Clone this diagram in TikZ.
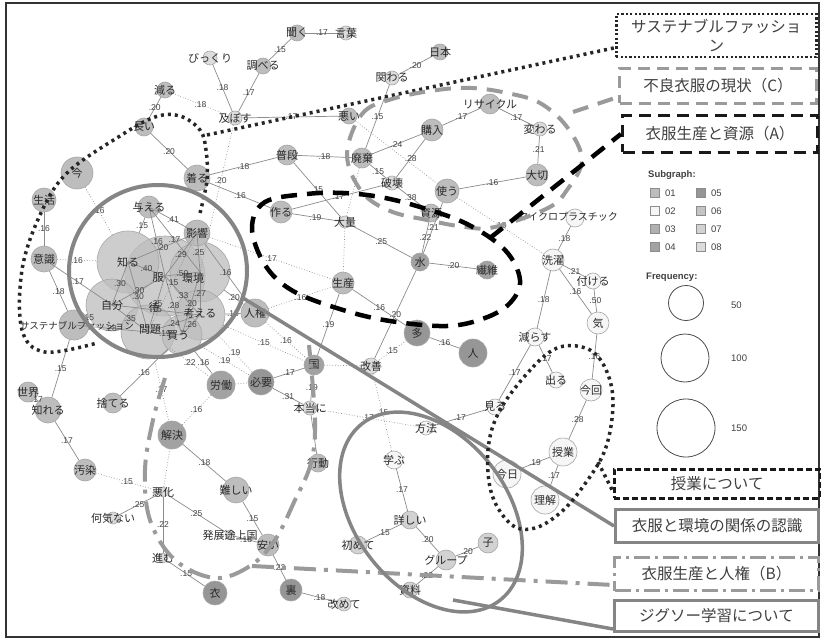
\documentclass[tikz,border=0pt]{standalone}
\usepackage{fontspec}
\setmainfont{Liberation Sans}
\newfontfamily\jp{Noto Sans CJK JP}
\usetikzlibrary{calc}
\pgfdeclarelayer{fg}
\pgfdeclarelayer{ov}
\pgfsetlayers{main,fg,ov}
\definecolor{ca}{HTML}{BDBDBD}
\definecolor{cb}{HTML}{F6F6F6}
\definecolor{cc}{HTML}{B0B0B0}
\definecolor{cd}{HTML}{A2A2A2}
\definecolor{ce}{HTML}{969696}
\definecolor{cf}{HTML}{C4C4C4}
\definecolor{cg}{HTML}{D2D2D2}
\definecolor{ch}{HTML}{DCDCDC}
\definecolor{edgec}{HTML}{8C8C8C}
\definecolor{labc}{HTML}{444444}
\definecolor{txtc}{HTML}{2A2A2A}
\definecolor{ovg}{HTML}{9A9A9A}
\definecolor{ovs}{HTML}{858585}
\tikzset{
  vtx/.style={circle, draw=black!35, line width=0.6pt, inner sep=0pt},
  vtxt/.style={font=\jp\fontsize{11}{11}\selectfont, text=txtc, inner sep=0pt},
  eg/.style={draw=edgec, line width=0.7pt},
  dg/.style={draw=edgec, line width=0.7pt, dotted},
  lab/.style={font=\fontsize{8.5}{9}\selectfont, text=labc, inner sep=0.5pt},
  boxt/.style={font=\jp\fontsize{15.5}{19}\selectfont, text=black!75, align=center, inner sep=0pt, minimum height=30pt},
}
\newcommand\vx[6]{\node[vtx, minimum size=#4pt, fill=#5] (#1) at (#2,#3) {};
  \begin{pgfonlayer}{fg}\node[vtxt] at (#2,#3) {#6};\end{pgfonlayer}}
\newcommand\eS[3]{\draw[eg] (#1) -- node[lab]{#3} (#2);}
\newcommand\eD[3]{\draw[dg] (#1) -- node[lab]{#3} (#2);}
\newcommand\eC[3]{\draw[eg] (#1.center) -- node[lab]{#3} (#2.center);}
\newcommand\eCD[3]{\draw[dg] (#1.center) -- node[lab]{#3} (#2.center);}
\begin{document}
\begin{tikzpicture}[x=1pt,y=-1pt]
\useasboundingbox (0,0) rectangle (821,639);
\fill[white] (0,0) rectangle (821,639);
\draw[black!80, line width=1.5pt] (6,3) rectangle (819,637);

% ---------- big cluster circles ----------
\node[vtx, minimum size=80pt, fill=ca, fill opacity=0.75] (fuku) at (165,276) {};
\node[vtx, minimum size=62pt, fill=ca, fill opacity=0.75] (shiru) at (128,262) {};
\node[vtx, minimum size=60pt, fill=ca, fill opacity=0.75] (kankyo) at (200,272) {};
\node[vtx, minimum size=52pt, fill=ca, fill opacity=0.75] (jibun) at (112,305) {};
\node[vtx, minimum size=50pt, fill=ca, fill opacity=0.75] (kangaeru) at (200,315) {};
\node[vtx, minimum size=54pt, fill=ca, fill opacity=0.75] (mondai) at (148,332) {};
\node[vtx, minimum size=40pt, fill=ca, fill opacity=0.75] (kau) at (182,335) {};
\begin{pgfonlayer}{fg}
\node[vtxt] at (128,262) {知る};
\node[vtxt] at (158,278) {服};
\node[vtxt] at (193,278) {環境};
\node[vtxt] at (112,305) {自分};
\node[vtxt] at (200,313) {考える};
\node[vtxt] at (150,330) {問題};
\node[vtxt] at (178,336) {買う};
\node[vtxt] at (154,307) {待};
\end{pgfonlayer}

% ---------- other vertices ----------
\vx{kiku}{297}{33}{16}{ca}{聞く}
\vx{kotoba}{346}{33}{14}{ch}{言葉}
\vx{bikkuri}{210}{58}{14}{ch}{びっくり}
\vx{shiraberu}{263}{66}{16}{ca}{調べる}
\vx{nihon}{440}{52}{16}{ca}{日本}
\vx{kakawaru}{392}{78}{14}{ch}{関わる}
\vx{heru}{165}{90}{16}{ca}{減る}
\vx{oyobosu}{235}{118}{14}{ch}{及ぼす}
\vx{warui}{349}{116}{16}{ca}{悪い}
\vx{nagai}{144}{127}{18}{ca}{長い}
\vx{recycle}{490}{104}{20}{ca}{リサイクル}
\vx{kawaru}{540}{129}{14}{ch}{変わる}
\vx{kounyu}{432}{130}{22}{ca}{購入}
\vx{kiru}{197}{178}{26}{ca}{着る}
\vx{fudan}{287}{155}{20}{ca}{普段}
\vx{haiki}{362}{158}{20}{ca}{廃棄}
\vx{hakai}{392}{183}{14}{ch}{破壊}
\vx{tsukau}{447}{191}{24}{ca}{使う}
\vx{taisetsu}{537}{175}{22}{ca}{大切}
\vx{ima}{77}{173}{32}{ca}{今}
\vx{seikatsu}{44}{200}{24}{ca}{生活}
\vx{tsukuru}{281}{212}{22}{ca}{作る}
\vx{tairyou}{345}{222}{12}{ch}{大量}
\vx{shigen}{431}{213}{18}{ca}{資源}
\node[vtx, minimum size=18pt, fill=cb] (micro) at (575,218) {};
\begin{pgfonlayer}{fg}\node[vtxt, font=\jp\fontsize{10}{10}\selectfont] at (568,217) {マイクロプラスチック};\end{pgfonlayer}
\vx{ataeru}{149}{207}{22}{ca}{与える}
\vx{eikyou}{197}{233}{26}{ca}{影響}
\vx{ishiki}{44}{259}{26}{ca}{意識}
\vx{jinken}{255}{313}{28}{ca}{人権}
\node[vtx, minimum size=30pt, fill=ca] (sustainable) at (74,325) {};
\begin{pgfonlayer}{fg}\node[vtxt, font=\jp\fontsize{9.5}{10}\selectfont] at (77,326) {サステナブルファッション};\end{pgfonlayer}
\vx{mizu}{420}{262}{18}{cd}{水}
\vx{seni}{487}{270}{18}{cd}{繊維}
\vx{sentaku}{553}{260}{22}{cb}{洗濯}
\vx{tsukeru}{593}{281}{16}{cb}{付ける}
\vx{seisan}{343}{283}{22}{ca}{生産}
\vx{ki}{598}{323}{22}{cb}{気}
\vx{ooi}{417}{333}{26}{ce}{多}
\vx{hito}{473}{353}{28}{ce}{人}
\vx{herasu}{535}{337}{18}{cb}{減らす}
\vx{deru}{556}{380}{16}{cb}{出る}
\vx{konkai}{591}{390}{22}{cb}{今回}
\vx{sekai}{28}{392}{20}{ca}{世界}
\vx{shireru}{48}{410}{26}{ca}{知れる}
\vx{suteru}{113}{403}{20}{ca}{捨てる}
\vx{roudou}{221}{385}{28}{cd}{労働}
\vx{hitsuyou}{261}{382}{26}{ce}{必要}
\vx{kuni}{314}{365}{20}{cd}{国}
\vx{kaizen}{371}{366}{16}{ch}{改善}
\vx{hontou}{310}{408}{14}{ch}{本当に}
\vx{miru}{495}{407}{16}{cb}{見る}
\vx{houhou}{426}{428}{14}{cb}{方法}
\vx{jugyou}{563}{452}{28}{cb}{授業}
\vx{kyou}{507}{474}{28}{cb}{今日}
\vx{rikai}{545}{500}{28}{cb}{理解}
\vx{koudou}{318}{463}{18}{ca}{行動}
\vx{manabu}{394}{460}{18}{cb}{学ぶ}
\vx{kaiketsu}{172}{435}{28}{cd}{解決}
\vx{muzukashii}{236}{490}{26}{ca}{難しい}
\vx{osen}{85}{470}{22}{ca}{汚染}
\vx{akka}{163}{492}{10}{ch}{悪化}
\vx{nanigenai}{113}{518}{12}{ch}{何気ない}
\vx{hatten}{230}{535}{10}{ch}{発展途上国}
\vx{kuwashii}{410}{520}{18}{cg}{詳しい}
\vx{hajimete}{358}{545}{18}{cg}{初めて}
\vx{ko}{488}{543}{20}{cg}{子}
\vx{group}{446}{560}{20}{cg}{グループ}
\vx{yasui}{268}{545}{22}{ca}{安い}
\vx{susumu}{163}{558}{10}{ch}{進む}
\vx{koromo}{215}{593}{24}{ce}{衣}
\vx{shiryou}{410}{590}{16}{cg}{資料}
\vx{ura}{291}{590}{22}{ce}{裏}
\vx{aratamete}{344}{604}{14}{ch}{改めて}

% ---------- edges ----------
\eS{kiku}{kotoba}{.17}
\eS{kiku}{shiraberu}{.15}
\eS{shiraberu}{oyobosu}{.17}
\eS{bikkuri}{oyobosu}{.18}
\eD{heru}{oyobosu}{.18}
\eS{heru}{nagai}{.20}
\eS{nagai}{kiru}{.20}
\eS{oyobosu}{warui}{.17}
\draw[dg] (oyobosu) -- node[lab, pos=0.38]{.20} (kankyo.center);
\eS{nihon}{kakawaru}{.20}
\eS{kakawaru}{haiki}{.15}
\eD{warui}{tsukau}{}
\eS{fudan}{haiki}{.18}
\eS{haiki}{kounyu}{.24}
\eS{kounyu}{recycle}{.17}
\eS{recycle}{kawaru}{.17}
\eS{kawaru}{taisetsu}{.21}
\eS{taisetsu}{tsukau}{.16}
\eS{kounyu}{hakai}{.28}
\eS{haiki}{hakai}{.15}
\eS{hakai}{shigen}{.38}
\eS{hakai}{tsukuru}{.17}
\eS{fudan}{tairyou}{.15}
\eD{haiki}{tairyou}{}
\eS{tsukuru}{tairyou}{.19}
\eS{kiru}{tsukuru}{.16}
\eS{kiru}{fudan}{.18}
\eS{tairyou}{mizu}{.25}
\eS{mizu}{shigen}{.22}
\eS{mizu}{tsukau}{.21}
\eS{mizu}{seni}{.20}
\eS{mizu}{kaizen}{.20}
\eS{seisan}{ooi}{.16}
\eS{ooi}{hito}{.16}
\eD{ooi}{kaizen}{.15}
\eS{seisan}{kuni}{.19}
\eD{tairyou}{seisan}{}
\eD{jinken}{seisan}{.16}
\eD{eikyou}{seisan}{.17}
\eS{micro}{sentaku}{.18}
\eD{tsukau}{sentaku}{.18}
\eS{sentaku}{tsukeru}{.21}
\eS{sentaku}{ki}{.16}
\eS{tsukeru}{ki}{.50}
\eS{sentaku}{herasu}{.18}
\eS{ki}{konkai}{.16}
\eS{herasu}{deru}{.17}
\eS{herasu}{miru}{.17}
\eS{konkai}{jugyou}{.28}
\eS{jugyou}{kyou}{.19}
\eS{jugyou}{rikai}{.17}
\eS{miru}{houhou}{.17}
\eD{hontou}{houhou}{.17}
\eD{kaizen}{manabu}{.15}
\eD{kuni}{kaizen}{}
\eS{manabu}{kuwashii}{.17}
\eS{kuwashii}{hajimete}{.15}
\eS{kuwashii}{group}{.20}
\eS{group}{ko}{.20}
\eS{group}{shiryou}{.22}
\eS{ura}{aratamete}{.18}
\eS{yasui}{ura}{.22}
\eS{muzukashii}{yasui}{.15}
\eS{kaiketsu}{muzukashii}{.18}
\eS{hatten}{yasui}{.18}
\eS{akka}{hatten}{.25}
\eS{akka}{susumu}{.22}
\eS{akka}{nanigenai}{.25}
\eS{susumu}{koromo}{.15}
\eD{osen}{akka}{.15}
\eS{shireru}{osen}{.17}
\eS{sekai}{shireru}{.17}
\eS{sustainable}{shireru}{.15}
\eS{ishiki}{sustainable}{.18}
\eS{seikatsu}{ishiki}{.16}
\eD{ima}{shiru}{.16}
\eD{ishiki}{shiru}{.16}
\eS{sustainable}{jibun}{.15}
\eS{suteru}{kau}{.16}
\eS{ataeru}{shiru}{.15}
\eS{eikyou}{jinken}{.16}
\eS{kankyo}{jinken}{.20}
\eS{kangaeru}{jinken}{.15}
\eD{jinken}{kuni}{.16}
\eS{kau}{roudou}{.16}
\eD{kau}{hitsuyou}{.19}
\eD{mondai}{roudou}{.22}
\eD{kangaeru}{hitsuyou}{.19}
\eD{roudou}{hitsuyou}{}
\eS{hitsuyou}{kuni}{.17}
\eD{kangaeru}{kuni}{.15}
\eS{hitsuyou}{hontou}{.31}
\eS{kuni}{hontou}{.19}
\eS{hontou}{koudou}{}
\eD{roudou}{kaiketsu}{.16}
\eD{mondai}{kaiketsu}{.17}
\eD{akka}{kaiketsu}{}
% cluster
\eC{shiru}{fuku}{.40}
\eC{shiru}{jibun}{.30}
\eC{shiru}{mondai}{.30}
\eC{jibun}{fuku}{.30}
\eC{jibun}{mondai}{.35}
\eC{fuku}{kankyo}{.50}
\eC{fuku}{mondai}{.25}
\eC{fuku}{kangaeru}{.33}
\eC{fuku}{kau}{.28}
\eC{kankyo}{kangaeru}{.27}
\eC{mondai}{kangaeru}{.24}
\eC{kangaeru}{kau}{.26}
\eC{mondai}{kau}{.19}
\eC{kankyo}{kau}{.20}
\eC{ataeru}{eikyou}{.41}
\eC{ataeru}{kankyo}{.17}
\eC{ataeru}{fuku}{.16}
\eC{shiru}{eikyou}{.20}
\eC{fuku}{eikyou}{.29}
\eC{eikyou}{kankyo}{.25}
\eC{jibun}{kangaeru}{.15}
\eC{sustainable}{mondai}{.28}
\eC{ishiki}{jibun}{.17}
\eCD{eikyou}{mondai}{.15}

% ---------- label boxes ----------
\node[boxt, draw=black!85, line width=2.5pt, dash pattern=on 2.2pt off 2.2pt, minimum width=200pt, minimum height=43pt, anchor=north west] (boxS) at (615,13) {サステナブルファッショ\\ン};
\node[boxt, draw=ovg, line width=3pt, dash pattern=on 12pt off 7pt, minimum width=197pt, minimum height=35pt, anchor=north west] (boxC) at (618,67) {不良衣服の現状（C）};
\node[boxt, draw=black!90, line width=3pt, dash pattern=on 12pt off 7pt, minimum width=195pt, minimum height=37pt, anchor=north west] (boxA) at (621,114) {衣服生産と資源（A）};
\node[boxt, draw=black!90, line width=2.5pt, dash pattern=on 6pt off 3pt, minimum width=206pt, minimum height=29pt, anchor=north west] (boxJ) at (613,468) {授業について};
\node[boxt, draw=ovs, line width=3pt, minimum width=203pt, minimum height=33pt, anchor=north west] (boxK) at (614,508) {衣服と環境の関係の認識};
\node[boxt, draw=ovg, line width=3pt, dash pattern=on 16pt off 5pt on 3pt off 5pt, minimum width=204pt, minimum height=33pt, anchor=north west] (boxB) at (613,556) {衣服生産と人権（B）};
\node[boxt, draw=ovs, line width=3pt, minimum width=204pt, minimum height=31pt, anchor=north west] (boxG) at (613,599) {ジグソー学習について};

% ---------- legend ----------
\node[font=\bfseries\fontsize{9.5}{10}\selectfont, text=black!75, anchor=west, inner sep=0pt] (subg) at (648,175) {Subgraph:};
\tikzset{sq/.style={draw=black!45, line width=0.5pt, minimum size=9pt, inner sep=0pt}, lt/.style={font=\fontsize{9.5}{10}\selectfont, text=black!75, anchor=west, inner sep=0pt}}
\node[sq, fill=ca] (s1) at (655,193) {}; \node[lt] at (665,193) {01};
\node[sq, fill=cb] (s2) at (655,211) {}; \node[lt] at (665,211) {02};
\node[sq, fill=cc] (s3) at (655,229) {}; \node[lt] at (665,229) {03};
\node[sq, fill=cd] (s4) at (655,247) {}; \node[lt] at (665,247) {04};
\node[sq, fill=ce] (s5) at (701,193) {}; \node[lt] at (711,193) {05};
\node[sq, fill=cf] (s6) at (701,211) {}; \node[lt] at (711,211) {06};
\node[sq, fill=cg] (s7) at (701,229) {}; \node[lt] at (711,229) {07};
\node[sq, fill=ch] (s8) at (701,247) {}; \node[lt] at (711,247) {08};
\node[font=\bfseries\fontsize{9.5}{10}\selectfont, text=black!75, anchor=west, inner sep=0pt] (freq) at (646,277) {Frequency:};
\node[circle, draw=black!70, line width=0.8pt, minimum size=35pt, inner sep=0pt] (f50) at (686,303) {};
\node[lt] at (731,305) {50};
\node[circle, draw=black!70, line width=0.8pt, minimum size=48pt, inner sep=0pt] (f100) at (685,358) {};
\node[lt] at (731,358) {100};
\node[circle, draw=black!70, line width=0.8pt, minimum size=58pt, inner sep=0pt] (f150) at (686,428) {};
\node[lt] at (731,428) {150};

% ---------- overlays ----------
\begin{pgfonlayer}{ov}
% sustainable fashion (black dotted)
\coordinate (sS) at (207,135);
\draw[black!85, line width=3.5pt, dash pattern=on 3pt off 4pt]
  plot[smooth, tension=0.6] coordinates {(200,213) (207,180) (206,150) (200,130) (180,116) (155,117) (120,136) (67,173) (40,215) (22,270) (22,330) (45,352) (97,343)};
\draw[black!85, line width=3.5pt, dash pattern=on 3pt off 4pt] (sS) -- ([yshift=-12pt]boxS.west);
% C grey dashed
\coordinate (cC) at (573,112);
\draw[ovg, line width=4pt, dash pattern=on 16pt off 10pt]
  plot[smooth cycle, tension=0.6] coordinates {(347,155) (362,114) (392,99) (437,90) (472,88) (507,93) (540,103) (567,127) (582,160) (567,190) (548,208) (495,227) (465,227) (427,220) (390,211) (362,192)};
\draw[ovg, line width=4pt, dash pattern=on 16pt off 10pt] (cC) -- ([yshift=-11pt]boxC.west);
% A black dashed
\coordinate (cA) at (490,238);
\draw[black, line width=4.5pt, dash pattern=on 16pt off 10pt]
  plot[smooth cycle, tension=0.6] coordinates {(265,202) (307,194) (343,193) (380,197) (420,207) (467,224) (505,250) (520,280) (510,303) (485,318) (447,326) (390,321) (343,310) (293,291) (265,265) (252,228)};
\draw[black, line width=4.5pt, dash pattern=on 16pt off 10pt] (cA) -- (boxA.west);
% grey circle
\draw[ovs, line width=4pt] (158,271) ellipse [x radius=89, y radius=86];
\coordinate (cK) at (243,298);
\draw[ovs, line width=3.5pt] (cK) -- (boxK.west);
% B grey dash-dot
\draw[ovg, line width=4pt, dash pattern=on 22pt off 8pt on 4pt off 8pt]
  plot[smooth, tension=0.6] coordinates {(165,378) (153,420) (145,470) (150,520) (175,560) (215,578) (250,566) (275,540) (295,500) (311,463) (315,420) (309,345)};
\coordinate (cB) at (252,566);
\draw[ovg, line width=4pt, dash pattern=on 22pt off 8pt on 4pt off 8pt] (cB) -- ([yshift=-11pt]boxB.west);
% jigsaw ellipse
\draw[ovs, line width=3.5pt, rotate around={-52:(431,512)}] (431,512) ellipse [x radius=112, y radius=76];
\coordinate (cG) at (453,600);
\draw[ovs, line width=3.5pt] (cG) -- ([yshift=-13pt]boxG.west);
% lesson dotted
\draw[black!85, line width=3.5pt, dash pattern=on 3pt off 4pt]
  plot[smooth cycle, tension=0.6] coordinates {(500,410) (533,367) (560,347) (590,350) (607,372) (613,405) (605,450) (582,488) (560,513) (535,528) (512,525) (492,495) (488,450)};
\coordinate (cJ) at (598,462);
\draw[black!85, line width=3.5pt, dash pattern=on 3pt off 4pt] (cJ) -- ([yshift=-8pt]boxJ.west);
\end{pgfonlayer}
\end{tikzpicture}
\end{document}
